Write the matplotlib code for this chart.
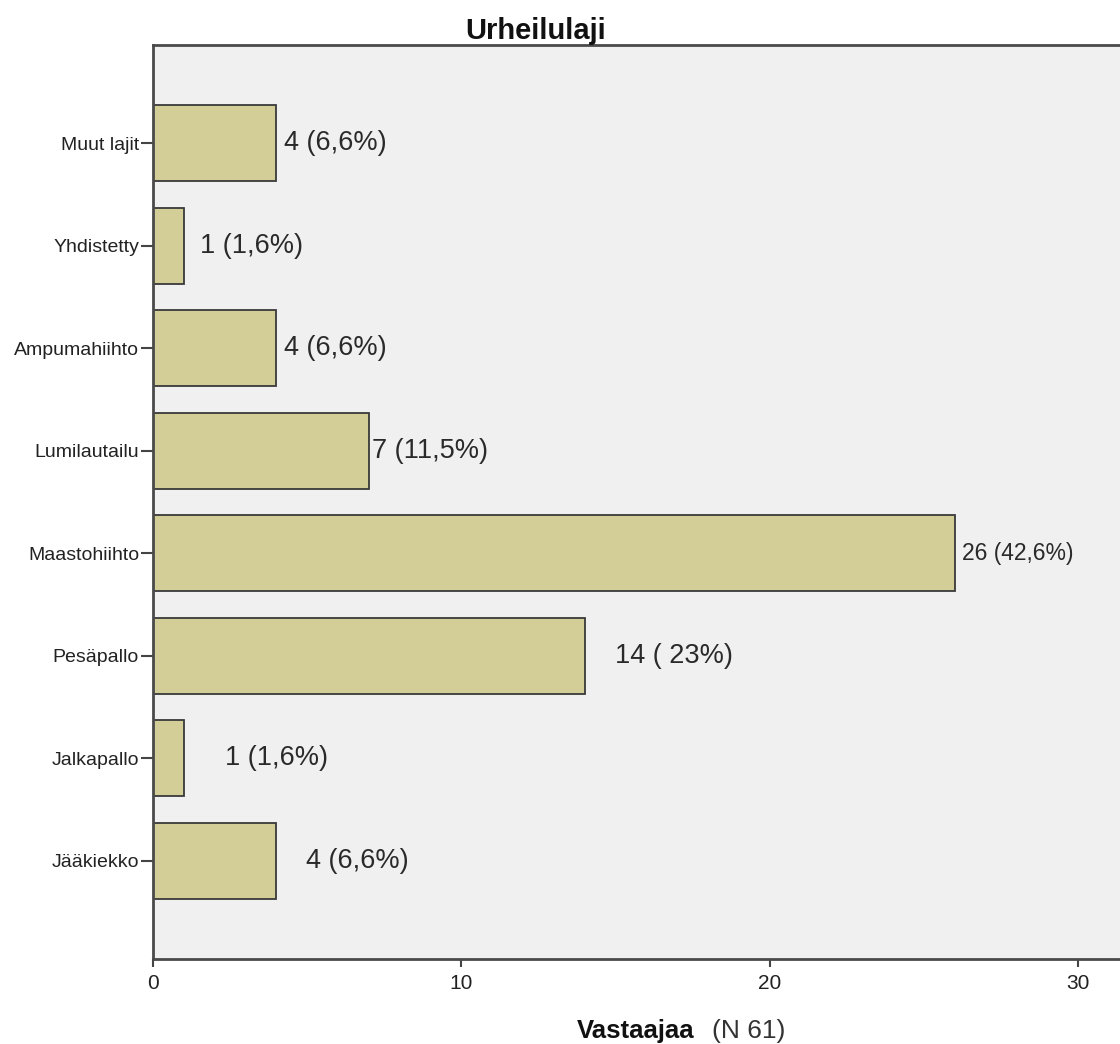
import matplotlib
matplotlib.use("Agg")
import matplotlib.pyplot as plt

plt.rcParams['font.family'] = ['Liberation Sans', 'DejaVu Sans']

# bottom to top, as the bars stand on the chart
lajit = ['Jääkiekko', 'Jalkapallo', 'Pesäpallo', 'Maastohiihto',
         'Lumilautailu', 'Ampumahiihto', 'Yhdistetty', 'Muut lajit']
vastaajat = [4, 1, 14, 26, 7, 4, 1, 4]
osuudet = ['4 (6,6%)', '1 (1,6%)', '14 ( 23%)', '26 (42,6%)',
           '7 (11,5%)', '4 (6,6%)', '1 (1,6%)', '4 (6,6%)']

# gap between bar end and its label, and label size (labels were placed by hand)
label_gap = [0.97, 1.33, 0.97, 0.23, 0.1, 0.26, 0.52, 0.26]
label_size = [19.5, 19.5, 19.5, 16.5, 19.5, 19.5, 19.5, 19.5]

fig = plt.figure(figsize=(11.2, 10.44), dpi=100)
ax = fig.add_axes([153 / 1120, 85 / 1044, 1 - 153 / 1120, 914 / 1044])
ax.set_facecolor('#f0f0f0')

ypos = list(range(len(lajit)))
ax.barh(ypos, vastaajat, height=0.74, color='#d3ce97',
        edgecolor='#3a3a3a', linewidth=1.3, zorder=2)

for y, v, txt, gap, fs in zip(ypos, vastaajat, osuudet, label_gap, label_size):
    ax.text(v + gap, y, txt, ha='left', va='center', fontsize=fs,
            color='#2a2a2a', zorder=3)

ax.set_xlim(0, (1120 - 153) / 30.83)
ax.set_ylim(-0.96, 7.96)
ax.set_xticks([0, 10, 20, 30])
ax.set_yticks(ypos)
ax.set_yticklabels(lajit)

ax.tick_params(axis='y', length=9, width=1.5, pad=1, labelsize=14,
               color='#444444', labelcolor='#222222')
ax.tick_params(axis='x', length=6, width=1.5, pad=5, labelsize=15,
               color='#444444', labelcolor='#222222')

for side in ['left', 'bottom', 'top']:
    ax.spines[side].set_color('#4a4a4a')
    ax.spines[side].set_linewidth(2)
ax.spines['right'].set_visible(False)

fig.text(536 / 1120, 1 - 39 / 1044, 'Urheilulaji', ha='center',
         va='baseline', fontsize=21, fontweight='bold', color='#111111')
fig.text(577 / 1120, 1 - 1038 / 1044, 'Vastaajaa', ha='left',
         va='baseline', fontsize=18.5, fontweight='bold', color='#111111')
fig.text(712 / 1120, 1 - 1038 / 1044, '(N 61)', ha='left',
         va='baseline', fontsize=19, color='#333333')

fig.savefig('out.png', dpi=100)
